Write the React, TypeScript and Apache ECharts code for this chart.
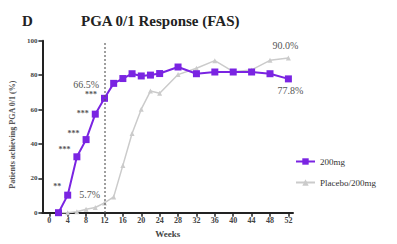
import React, { useEffect, useRef } from "react";
import * as echarts from "echarts";

const weeks200 = [2, 4, 6, 8, 10, 12, 14, 16, 18, 20, 22, 24, 28, 32, 36, 40, 44, 48, 52];
const resp200 = [0, 10.2, 32.5, 42.5, 57.3, 66.5, 75.2, 78, 80.8, 79.5, 80, 80.9, 84.7, 80.8, 81.8, 81.8, 81.8, 80.8, 77.8];
const weeksPbo = [2, 4, 6, 8, 10, 12, 14, 16, 18, 20, 22, 24, 28, 32, 36, 40, 44, 48, 52];
const respPbo = [0, 0, 0.5, 2, 3, 5.7, 9.2, 27.5, 46, 60.2, 70.7, 69.4, 80.3, 84, 88.4, 82, 83, 88.6, 90.0];
const xTicks = [0, 4, 8, 12, 16, 20, 24, 28, 32, 36, 40, 44, 48, 52];
const seriesNames = ["200mg", "Placebo/200mg"];
const sigMarks: Record<number, string> = { 4: "**", 6: "***", 8: "***", 10: "***" };

const PURPLE = "#7a24e2";
const GRAY = "#cbcbcb";
const SERIF = "'Liberation Serif', 'DejaVu Serif', serif";

export default function App() {
  const ref = useRef<HTMLDivElement>(null);
  useEffect(() => {
    if (!ref.current) return;
    const chart = echarts.init(ref.current, null, { renderer: "svg" });

    const purpleData = weeks200.map((w, i) => {
      const item: any = { value: [w, resp200[i]] };
      if (sigMarks[w]) {
        const dy = w === 4 ? -9 : w === 6 ? -7 : w === 8 ? -6 : -1;
        item.label = {
          show: true,
          formatter: sigMarks[w],
          position: "left",
          distance: 3,
          offset: [0, dy],
          fontSize: 8,
          fontWeight: "bold",
          color: "#555",
          fontFamily: SERIF,
        };
      }
      if (w === 12) {
        item.label = {
          show: true,
          position: "left",
          distance: 2,
          offset: [0, -9],
          align: "right",
          formatter: "{a|66.5%}\n{b|***}",
          rich: {
            a: { fontSize: 10, color: "#555", fontFamily: SERIF, align: "right", lineHeight: 11 },
            b: { fontSize: 8, fontWeight: "bold", color: "#555", fontFamily: SERIF, align: "right", padding: [0, 2, 0, 0], lineHeight: 10 },
          },
        };
      }
      if (w === 52) {
        item.label = {
          show: true,
          formatter: "77.8%",
          position: "bottom",
          distance: 3,
          offset: [2, 0],
          fontSize: 10,
          color: "#555",
          fontFamily: SERIF,
        };
      }
      return item;
    });

    const pboData = weeksPbo.map((w, i) => {
      const item: any = { value: [w, respPbo[i]] };
      if (w === 12) {
        item.label = {
          show: true,
          formatter: "5.7%",
          position: "left",
          distance: 2,
          offset: [0, -8],
          fontSize: 10,
          color: "#555",
          fontFamily: SERIF,
        };
      }
      if (w === 52) {
        item.label = {
          show: true,
          formatter: "90.0%",
          position: "top",
          distance: 5,
          offset: [-3, 0],
          fontSize: 10,
          color: "#555",
          fontFamily: SERIF,
        };
      }
      return item;
    });

    chart.setOption({
      animation: false,
      backgroundColor: "#ffffff",
      title: [
        {
          text: "D",
          left: 17,
          top: 8,
          textStyle: { fontSize: 15, fontWeight: "bold", fontFamily: SERIF, color: "#222" },
        },
        {
          text: "PGA 0/1 Response (FAS)",
          left: 76,
          top: 8,
          textStyle: { fontSize: 15, fontWeight: "bold", fontFamily: SERIF, color: "#222" },
        },
      ],
      legend: {
        orient: "vertical",
        left: 290,
        top: 152,
        itemGap: 12,
        itemWidth: 19,
        itemHeight: 8,
        data: seriesNames,
        textStyle: { fontSize: 9, fontFamily: SERIF, color: "#333" },
      },
      grid: { left: 33, right: 104, top: 40.7, bottom: 31.3, containLabel: false },
      xAxis: {
        type: "value",
        min: -1.5,
        max: 53,
        name: "Weeks",
        nameLocation: "middle",
        nameGap: 17,
        nameTextStyle: { fontSize: 9, fontWeight: "bold", fontFamily: SERIF, color: "#444" },
        axisLine: { lineStyle: { color: "#222", width: 2 } },
        axisTick: { show: true, customValues: xTicks, length: 4, lineStyle: { color: "#222", width: 1.5 } },
        axisLabel: {
          customValues: xTicks,
          fontSize: 8,
          fontWeight: "bold",
          fontFamily: SERIF,
          color: "#444",
          margin: 4,
        },
        splitLine: { show: false },
      },
      yAxis: {
        type: "value",
        min: 0,
        max: 100,
        interval: 20,
        name: "Patients achieving PGA 0/1 (%)",
        nameLocation: "middle",
        nameGap: 19,
        nameTextStyle: { fontSize: 8, fontWeight: "bold", fontFamily: SERIF, color: "#555", padding: [0, 16, 0, 0] },
        axisLine: { show: true, onZero: false, lineStyle: { color: "#222", width: 2 } },
        axisTick: { show: true, length: 4, lineStyle: { color: "#222", width: 1.5 } },
        axisLabel: { fontSize: 7, fontWeight: "bold", fontFamily: SERIF, color: "#444", margin: 5 },
        splitLine: { show: false },
      },
      series: [
        {
          name: seriesNames[1],
          type: "line",
          data: pboData,
          symbol: "triangle",
          symbolSize: 5,
          z: 2,
          lineStyle: { color: GRAY, width: 1.5 },
          itemStyle: { color: GRAY },
          markLine: {
            silent: true,
            symbol: "none",
            label: { show: false },
            lineStyle: { type: [1.5, 2.5], color: "#555", width: 1.5 },
            data: [{ xAxis: 12 }],
          },
        },
        {
          name: seriesNames[0],
          type: "line",
          data: purpleData,
          symbol: "rect",
          symbolSize: 7,
          z: 3,
          lineStyle: { color: PURPLE, width: 2 },
          itemStyle: { color: PURPLE },
        },
      ],
    });
    return () => chart.dispose();
  }, []);
  return <div ref={ref} style={{ width: 397, height: 244, position: "absolute", left: 0, top: 0 }} />;
}
